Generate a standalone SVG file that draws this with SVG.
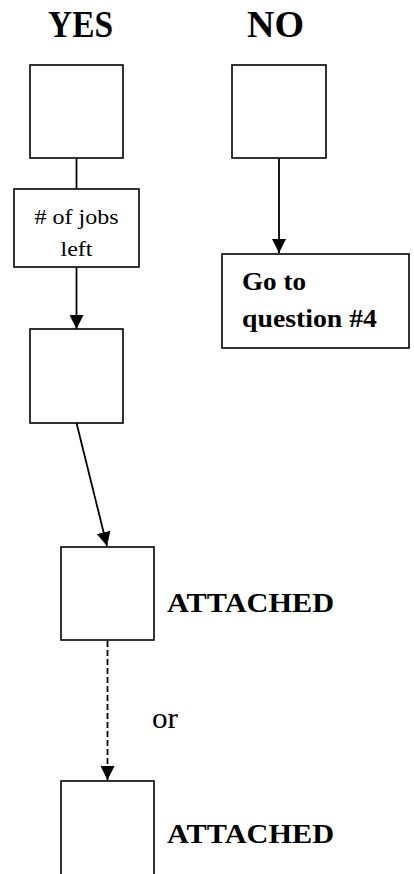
<svg xmlns="http://www.w3.org/2000/svg" width="414" height="874" viewBox="0 0 414 874">
<style>
.box{fill:#fff;stroke:#000;stroke-width:1.6}
.ln{stroke:#000;stroke-width:1.8;fill:none}
.hd{font-family:"Liberation Serif",serif;font-weight:bold;fill:#000}
.tx{font-family:"Liberation Serif",serif;fill:#000}
</style>
<defs>
<marker id="ah" viewBox="0 0 14 14" refX="14" refY="7" markerWidth="14" markerHeight="14" markerUnits="userSpaceOnUse" orient="auto">
<path d="M0,0 L14,7 L0,14 Z" fill="#000"/>
</marker>
</defs>
<g id="titles">
<text class="hd" x="80.5" y="37" font-size="38" text-anchor="middle" textLength="65" lengthAdjust="spacingAndGlyphs">YES</text>
<text class="hd" x="275.5" y="37" font-size="38" text-anchor="middle" textLength="57" lengthAdjust="spacingAndGlyphs">NO</text>
</g>
<g id="connectors">
<line class="ln" x1="76.5" y1="158" x2="76.5" y2="189"/>
<line class="ln" x1="76.5" y1="267" x2="76.5" y2="329" marker-end="url(#ah)"/>
<line class="ln" x1="279" y1="158" x2="279" y2="253" marker-end="url(#ah)"/>
<line class="ln" x1="76.5" y1="423" x2="107" y2="546" marker-end="url(#ah)"/>
<line class="ln" x1="107.5" y1="641" x2="107.5" y2="780" stroke-dasharray="6,3" marker-end="url(#ah)"/>
</g>
<g id="yes-box"><rect class="box" x="30" y="65" width="93" height="93"/></g>
<g id="no-box"><rect class="box" x="232" y="65" width="94" height="93"/></g>
<g id="jobs-left">
<rect class="box" x="14" y="189" width="125" height="78"/>
<text class="tx" x="76.5" y="224" font-size="21" text-anchor="middle" textLength="84" lengthAdjust="spacingAndGlyphs"># of jobs</text>
<text class="tx" x="76.5" y="256" font-size="21" text-anchor="middle" textLength="32" lengthAdjust="spacingAndGlyphs">left</text>
</g>
<g id="go-to">
<rect class="box" x="222" y="254" width="187" height="94"/>
<text class="hd" x="242" y="290" font-size="25" textLength="64" lengthAdjust="spacingAndGlyphs">Go to</text>
<text class="hd" x="242" y="327" font-size="25" textLength="135" lengthAdjust="spacingAndGlyphs">question #4</text>
</g>
<g id="box3"><rect class="box" x="30" y="329" width="93" height="94"/></g>
<g id="attached1">
<rect class="box" x="61" y="547" width="93" height="93"/>
<text class="hd" x="167" y="612" font-size="28" textLength="167" lengthAdjust="spacingAndGlyphs">ATTACHED</text>
</g>
<g id="or-label"><text class="tx" x="152" y="728" font-size="30" textLength="26" lengthAdjust="spacingAndGlyphs">or</text></g>
<g id="attached2">
<rect class="box" x="61" y="781" width="93" height="96"/>
<text class="hd" x="167" y="843" font-size="28" textLength="167" lengthAdjust="spacingAndGlyphs">ATTACHED</text>
</g>
</svg>
